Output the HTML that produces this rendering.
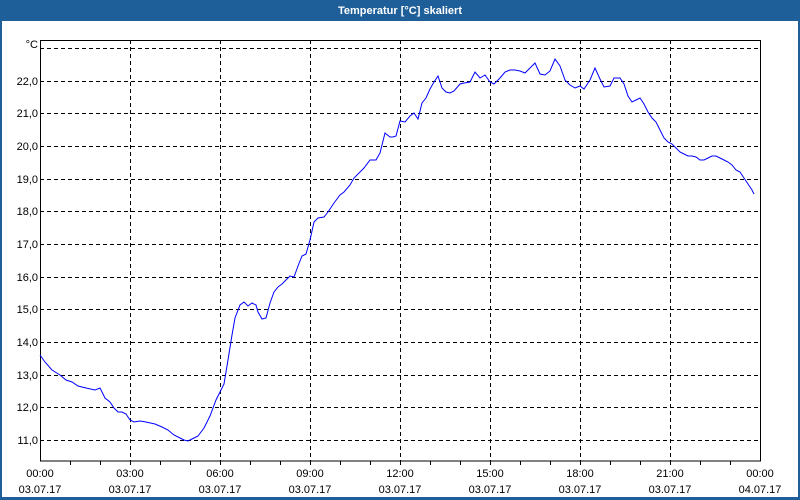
<!DOCTYPE html>
<html><head><meta charset="utf-8"><style>
body{margin:0;width:800px;height:500px;overflow:hidden;background:#fff;font-family:"Liberation Sans",sans-serif}
</style></head><body>
<svg width="800" height="500" xmlns="http://www.w3.org/2000/svg" style="display:block">
<rect x="0" y="0" width="800" height="500" fill="#1e5f99"/>
<rect x="2" y="21" width="796" height="476" fill="#fff"/>
<text x="400" y="14" fill="#fff" font-size="11" font-weight="bold" text-anchor="middle" font-family="Liberation Sans, sans-serif">Temperatur [°C] skaliert</text>
<g stroke="#000" stroke-width="1" stroke-dasharray="4,3" fill="none">
<line x1="40" y1="48.5" x2="760" y2="48.5"/>
<line x1="40" y1="81.5" x2="760" y2="81.5"/>
<line x1="40" y1="113.5" x2="760" y2="113.5"/>
<line x1="40" y1="146.5" x2="760" y2="146.5"/>
<line x1="40" y1="179.5" x2="760" y2="179.5"/>
<line x1="40" y1="211.5" x2="760" y2="211.5"/>
<line x1="40" y1="244.5" x2="760" y2="244.5"/>
<line x1="40" y1="277.5" x2="760" y2="277.5"/>
<line x1="40" y1="309.5" x2="760" y2="309.5"/>
<line x1="40" y1="342.5" x2="760" y2="342.5"/>
<line x1="40" y1="375.5" x2="760" y2="375.5"/>
<line x1="40" y1="407.5" x2="760" y2="407.5"/>
<line x1="40" y1="440.5" x2="760" y2="440.5"/>
<line x1="130.5" y1="40" x2="130.5" y2="461"/>
<line x1="220.5" y1="40" x2="220.5" y2="461"/>
<line x1="310.5" y1="40" x2="310.5" y2="461"/>
<line x1="400.5" y1="40" x2="400.5" y2="461"/>
<line x1="490.5" y1="40" x2="490.5" y2="461"/>
<line x1="580.5" y1="40" x2="580.5" y2="461"/>
<line x1="670.5" y1="40" x2="670.5" y2="461"/>
</g>
<rect x="40.5" y="40.5" width="720" height="420.5" fill="none" stroke="#000" stroke-width="1"/>
<g stroke="#000" stroke-width="1">
<line x1="70.5" y1="461" x2="70.5" y2="465"/><line x1="100.5" y1="461" x2="100.5" y2="465"/><line x1="130.5" y1="461" x2="130.5" y2="465"/>
<line x1="160.5" y1="461" x2="160.5" y2="465"/><line x1="190.5" y1="461" x2="190.5" y2="465"/><line x1="220.5" y1="461" x2="220.5" y2="465"/>
<line x1="250.5" y1="461" x2="250.5" y2="465"/><line x1="280.5" y1="461" x2="280.5" y2="465"/><line x1="310.5" y1="461" x2="310.5" y2="465"/>
<line x1="340.5" y1="461" x2="340.5" y2="465"/><line x1="370.5" y1="461" x2="370.5" y2="465"/><line x1="400.5" y1="461" x2="400.5" y2="465"/>
<line x1="430.5" y1="461" x2="430.5" y2="465"/><line x1="460.5" y1="461" x2="460.5" y2="465"/><line x1="490.5" y1="461" x2="490.5" y2="465"/>
<line x1="520.5" y1="461" x2="520.5" y2="465"/><line x1="550.5" y1="461" x2="550.5" y2="465"/><line x1="580.5" y1="461" x2="580.5" y2="465"/>
<line x1="610.5" y1="461" x2="610.5" y2="465"/><line x1="640.5" y1="461" x2="640.5" y2="465"/><line x1="670.5" y1="461" x2="670.5" y2="465"/>
<line x1="700.5" y1="461" x2="700.5" y2="465"/><line x1="730.5" y1="461" x2="730.5" y2="465"/>
</g>
<g font-size="11" fill="#000" text-anchor="end" font-family="Liberation Sans, sans-serif">
<text x="38" y="48">°C</text>
<text x="38" y="85">22,0</text><text x="38" y="117">21,0</text><text x="38" y="150">20,0</text>
<text x="38" y="183">19,0</text><text x="38" y="215">18,0</text><text x="38" y="248">17,0</text>
<text x="38" y="281">16,0</text><text x="38" y="313">15,0</text><text x="38" y="346">14,0</text>
<text x="38" y="379">13,0</text><text x="38" y="411">12,0</text><text x="38" y="444">11,0</text>
</g>
<g font-size="11" fill="#000" text-anchor="middle" font-family="Liberation Sans, sans-serif">
<text x="40" y="477">00:00</text><text x="40" y="493">03.07.17</text>
<text x="130" y="477">03:00</text><text x="130" y="493">03.07.17</text>
<text x="220" y="477">06:00</text><text x="220" y="493">03.07.17</text>
<text x="310" y="477">09:00</text><text x="310" y="493">03.07.17</text>
<text x="400" y="477">12:00</text><text x="400" y="493">03.07.17</text>
<text x="490" y="477">15:00</text><text x="490" y="493">03.07.17</text>
<text x="580" y="477">18:00</text><text x="580" y="493">03.07.17</text>
<text x="670" y="477">21:00</text><text x="670" y="493">03.07.17</text>
<text x="760" y="477">00:00</text><text x="760" y="493">04.07.17</text>
</g>
<polyline fill="none" stroke="#0000ff" stroke-width="1" points="40,355 45,362 52,370 60,375 66,380 72,382 78,386 86,388 95,390 100,388 105,398 110,402 114,408 118,412 122,412 126,414 130,420 134,422 140,421 146,422 155,424 162,427 168,430 174,435 180,438 184,440 188,441 194,438 198,436 204,428 210,416 216,400 220,392 224,384 228,360 232,335 235,318 240,305 244,302 248,306 252,303 256,305 258,312 262,319 266,318 270,303 274,292 278,287 282,284 286,280 290,276 294,277 298,266 302,256 306,254 310,240 314,222 318,218 324,217 328,212 334,203 340,195 344,192 350,185 354,178 358,174 364,168 370,160 376,160 380,153 385,133 390,137 393,137 396,136 400,121 405,122 410,116 414,113 418,119 422,103 426,98 430,89 434,82 438,76 442,88 446,92 450,93 454,91 460,84 464,83 470,82 475,72 480,78 485,75 490,82 494,84 500,78 505,72 510,70 515,70 520,71 525,73 530,68 535,63 540,74 545,75 550,71 555,59 560,66 565,80 570,85 575,88 580,86 584,89 590,80 595,68 600,79 604,87 610,86 614,78 620,78 624,84 628,96 632,102 636,100 640,98 644,104 648,112 652,118 656,122 660,130 664,138 668,142 672,144 676,148 680,152 684,154 688,156 692,156 696,157 700,160 704,160 708,158 712,156 716,156 720,158 724,160 728,162 732,165 736,170 740,172 744,178 748,184 752,190 754,194"/>
</svg>
</body></html>
